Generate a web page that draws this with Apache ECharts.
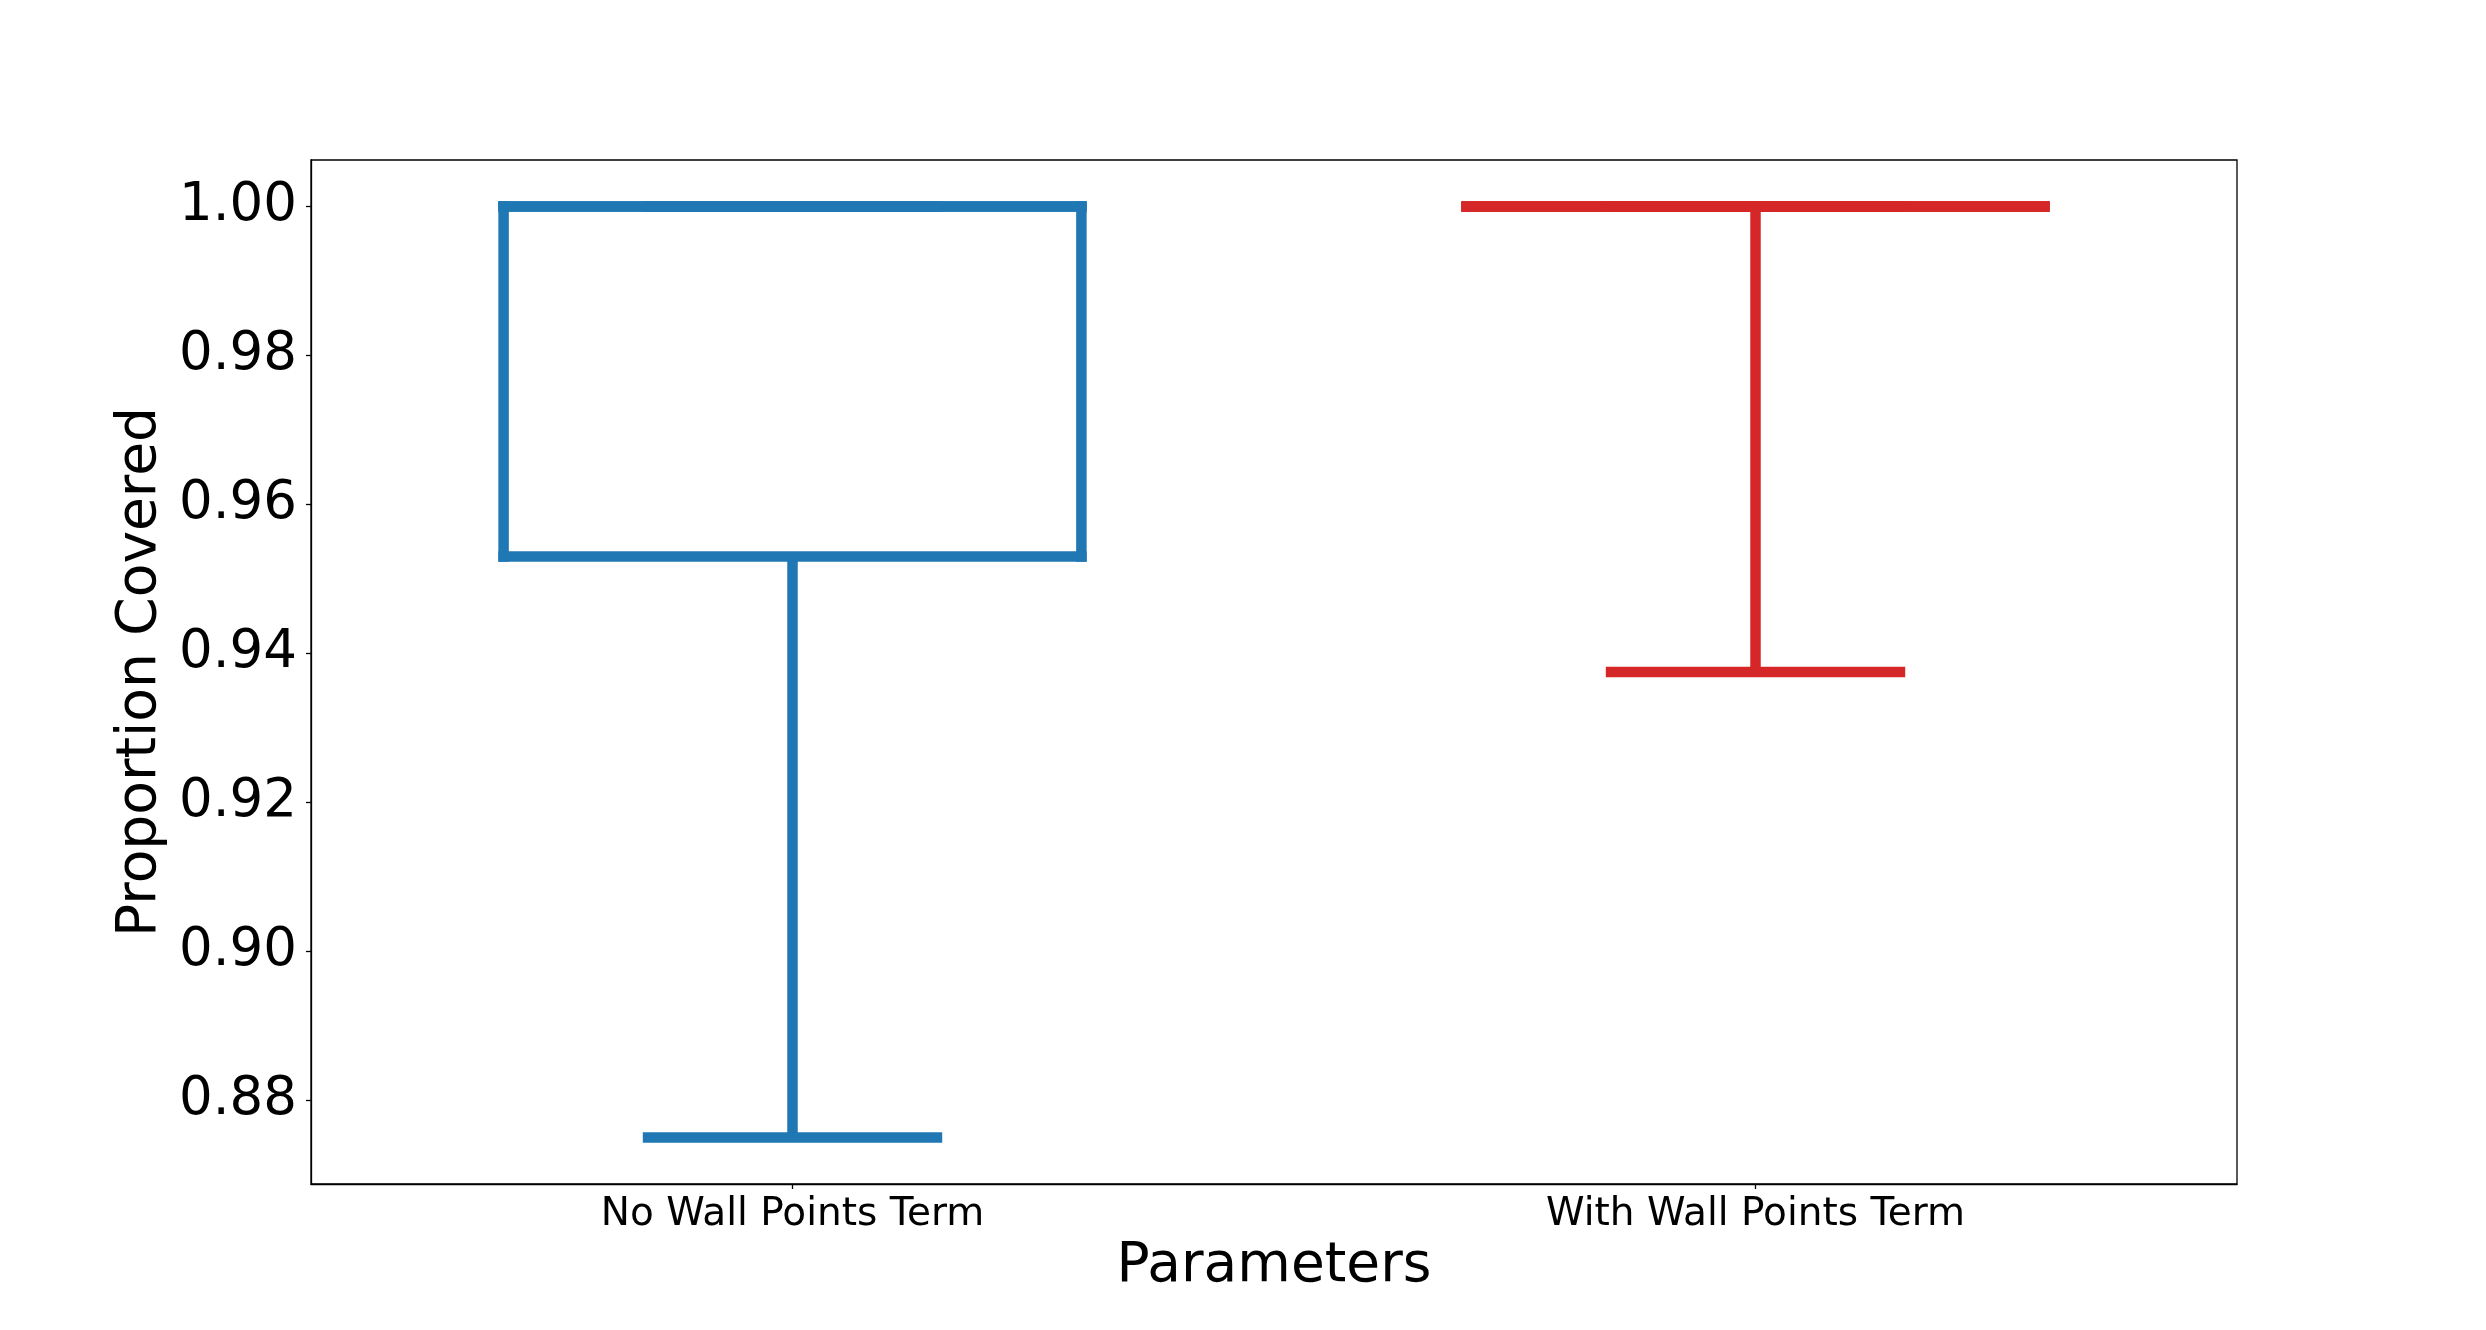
<!DOCTYPE html>
<html>
<head>
<meta charset="utf-8">
<script src="https://cdn.jsdelivr.net/npm/echarts@6/dist/echarts.min.js"></script>
<style>
html,body{margin:0;padding:0;background:#fff;}
#chart{width:2486px;height:1330px;}
</style>
</head>
<body>
<div id="chart"></div>
<script>
const categories = ['No Wall Points Term', 'With Wall Points Term'];
const lowerWhisker = [0.875, 0.9375];
const q1 = [0.953, 1.0];
const median = [1.0, 1.0];
const q3 = [1.0, 1.0];
const upperWhisker = [1.0, 1.0];
const colors = ['#1f77b4', '#d62728'];
const yTicks = [0.88, 0.90, 0.92, 0.94, 0.96, 0.98, 1.00];
const yMin = 0.86875, yMax = 1.00625;

const data = categories.map((c, i) => [i, lowerWhisker[i], q1[i], median[i], q3[i], upperWhisker[i]]);

const chart = echarts.init(document.getElementById('chart'), null, {renderer: 'canvas'});
const FONT = 'DejaVu Sans';
const LW = 10.5;

function renderItem(params, api) {
  const idx = api.value(0);
  const col = colors[idx];
  const band = api.size([1, 0])[0];
  const half = band * 0.6 / 2;
  const capHalf = half / 2;
  const pLo = api.coord([idx, api.value(1)]);
  const pQ1 = api.coord([idx, api.value(2)]);
  const pMed = api.coord([idx, api.value(3)]);
  const pQ3 = api.coord([idx, api.value(4)]);
  const pHi = api.coord([idx, api.value(5)]);
  const cx = pQ1[0];
  const sq = {stroke: col, lineWidth: LW, lineCap: 'square', fill: null};
  const bt = {stroke: col, lineWidth: LW, lineCap: 'butt', fill: null};
  const line = (x1, y1, x2, y2, st) => ({type: 'line', shape: {x1, y1, x2, y2}, style: st});
  const children = [
    line(cx, pQ1[1], cx, pLo[1], bt),
    line(cx, pQ3[1], cx, pHi[1], bt),
    line(cx - capHalf, pLo[1], cx + capHalf, pLo[1], sq),
    line(cx - capHalf, pHi[1], cx + capHalf, pHi[1], sq),
    line(cx - half, pQ1[1], cx + half, pQ1[1], sq),
    line(cx - half, pQ3[1], cx + half, pQ3[1], sq),
    line(cx - half, pQ1[1], cx - half, pQ3[1], sq),
    line(cx + half, pQ1[1], cx + half, pQ3[1], sq),
    line(cx - half, pMed[1], cx + half, pMed[1], sq)
  ];
  return {type: 'group', children};
}

chart.setOption({
  backgroundColor: '#fff',
  animation: false,
  grid: {left: 311, right: 249, top: 160, bottom: 146, show: true, borderColor: '#000', borderWidth: 1.3, backgroundColor: 'transparent'},
  xAxis: {
    type: 'category',
    data: categories,
    boundaryGap: true,
    axisLine: {show: true, lineStyle: {color: '#000', width: 1.3}},
    axisTick: {show: true, alignWithLabel: true, length: 5, lineStyle: {color: '#000', width: 1.3}},
    axisLabel: {color: '#000', fontFamily: FONT, fontSize: 39, lineHeight: 39, margin: 11},
    splitLine: {show: false},
    name: 'Parameters',
    nameLocation: 'middle',
    nameGap: 53,
    nameTextStyle: {color: '#000', fontFamily: FONT, fontSize: 55, lineHeight: 55}
  },
  yAxis: {
    type: 'value',
    min: yMin,
    max: yMax,
    axisLine: {show: true, lineStyle: {color: '#000', width: 1.3}},
    axisTick: {show: true, length: 5, customValues: yTicks, lineStyle: {color: '#000', width: 1.3}},
    axisLabel: {color: '#000', fontFamily: FONT, fontSize: 53, margin: 14, customValues: yTicks, formatter: v => v.toFixed(2)},
    splitLine: {show: false},
    name: 'Proportion Covered',
    nameLocation: 'middle',
    nameGap: 129,
    nameRotate: 90,
    nameTextStyle: {color: '#000', fontFamily: FONT, fontSize: 55, lineHeight: 55}
  },
  series: [{
    type: 'custom',
    renderItem: renderItem,
    data: data,
    encode: {x: 0, y: [1, 2, 3, 4, 5]},
    clip: false
  }]
});
</script>
</body>
</html>
